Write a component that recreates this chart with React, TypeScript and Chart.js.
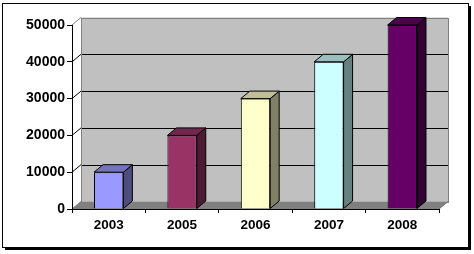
import React, { useEffect, useRef } from "react";
import { Chart, registerables } from "chart.js";

Chart.register(...registerables);

const categories = ["2003", "2005", "2006", "2007", "2008"];
const values = [10000, 20000, 30000, 40000, 50000];
const frontColors = ["#9999FF", "#993366", "#FFFFCC", "#CCFFFF", "#660066"];
const topColors = ["#7373BF", "#73264D", "#BFBF99", "#99BFBF", "#4D004D"];
const sideColors = ["#4D4D80", "#4D1A33", "#808066", "#668080", "#330033"];
const yTicks = [0, 10000, 20000, 30000, 40000, 50000];

const DX = 9;
const DY = -7.5;

const threeD = {
  id: "threeD",
  beforeDraw(chart: any) {
    const ctx = chart.ctx;
    const { left, right, top, bottom } = chart.chartArea;
    const yScale = chart.scales.y;
    ctx.save();
    // frame
    ctx.fillStyle = "#FFFFFF";
    ctx.fillRect(0, 0, chart.width, chart.height);
    ctx.fillStyle = "#000000";
    ctx.fillRect(468, 6, 3, 244);
    ctx.fillRect(5, 247, 466, 3);
    ctx.strokeStyle = "#000000";
    ctx.lineWidth = 1;
    ctx.strokeRect(2.5, 3.5, 466, 244);

    // back wall
    const bl = left + DX, br = right + DX, bt = top + DY, bb = bottom + DY;
    ctx.fillStyle = "#C0C0C0";
    ctx.fillRect(bl, bt, br - bl, bb - bt);
    // back grid lines + side wall diagonals
    ctx.lineWidth = 1;
    yTicks.forEach((v) => {
      const py = Math.round(yScale.getPixelForValue(v) + DY) + 0.5;
      const isEdge = v === yTicks[0] || v === yTicks[yTicks.length - 1];
      ctx.strokeStyle = isEdge ? "#808080" : "#000000";
      if (!isEdge) {
        ctx.beginPath();
        ctx.moveTo(bl, py);
        ctx.lineTo(br, py);
        ctx.stroke();
      }
      ctx.beginPath();
      ctx.moveTo(left, yScale.getPixelForValue(v));
      ctx.lineTo(bl, yScale.getPixelForValue(v) + DY);
      ctx.stroke();
    });
    // back wall outline
    ctx.strokeStyle = "#808080";
    ctx.strokeRect(Math.round(bl) + 0.5, Math.round(bt) + 0.5, Math.round(br - bl), Math.round(bb - bt));
    // floor
    ctx.fillStyle = "#808080";
    ctx.beginPath();
    ctx.moveTo(left, bottom);
    ctx.lineTo(right, bottom);
    ctx.lineTo(br, bb);
    ctx.lineTo(bl, bb);
    ctx.closePath();
    ctx.fill();
    ctx.strokeStyle = "#707070";
    ctx.beginPath();
    ctx.moveTo(right, bottom);
    ctx.lineTo(br, bb);
    ctx.stroke();
    ctx.restore();
  },
  afterDatasetsDraw(chart: any) {
    const ctx = chart.ctx;
    const meta = chart.getDatasetMeta(0);
    ctx.save();
    ctx.lineWidth = 1;
    ctx.strokeStyle = "#000000";
    ctx.lineJoin = "miter";
    meta.data.forEach((el: any, i: number) => {
      const x1 = el.x - el.width / 2;
      const x2 = el.x + el.width / 2;
      const yt = el.y;
      const yb = el.base;
      ctx.fillStyle = sideColors[i];
      ctx.beginPath();
      ctx.moveTo(x2, yt);
      ctx.lineTo(x2 + DX, yt + DY);
      ctx.lineTo(x2 + DX, yb + DY);
      ctx.lineTo(x2, yb);
      ctx.closePath();
      ctx.fill();
      ctx.stroke();
      ctx.fillStyle = topColors[i];
      ctx.beginPath();
      ctx.moveTo(x1, yt);
      ctx.lineTo(x1 + DX, yt + DY);
      ctx.lineTo(x2 + DX, yt + DY);
      ctx.lineTo(x2, yt);
      ctx.closePath();
      ctx.fill();
      ctx.stroke();
    });
    ctx.restore();
  },
};

export default function App() {
  const ref = useRef<HTMLCanvasElement>(null);
  useEffect(() => {
    document.body.style.margin = "0";
    const canvas = ref.current!;
    const family = "Arial, 'Liberation Sans', sans-serif";
    const chart = new Chart(canvas, {
      type: "bar",
      data: {
        labels: categories,
        datasets: [
          {
            data: values,
            backgroundColor: frontColors,
            borderColor: "#000000",
            borderWidth: 1,
            barPercentage: 0.4,
            categoryPercentage: 1,
          },
        ],
      },
      options: {
        responsive: false,
        animation: false,
        devicePixelRatio: 1,
        layout: { padding: { left: 0, top: 25, right: 35, bottom: 0 } },
        plugins: { legend: { display: false }, tooltip: { enabled: false }, title: { display: false } },
        scales: {
          x: {
            offset: true,
            grid: { drawOnChartArea: false, drawTicks: true, tickLength: 4, color: "#000000", offset: true },
            border: { display: true, color: "#000000" },
            ticks: { color: "#000000", font: { family, size: 13.5, weight: "bold" }, padding: 4, maxRotation: 0 },
            afterFit: (s: any) => {
              s.height = 45;
            },
          },
          y: {
            min: 0,
            max: 50000,
            afterBuildTicks: (s: any) => {
              s.ticks = yTicks.map((v) => ({ value: v }));
            },
            grid: { drawOnChartArea: false, drawTicks: true, tickLength: 5, color: "#000000" },
            border: { display: true, color: "#000000" },
            ticks: {
              color: "#000000",
              font: { family, size: 14, weight: "bold" },
              padding: 2,
              callback: (v: any) => String(v),
            },
            afterFit: (s: any) => {
              s.width = 72;
            },
          },
        },
      },
      plugins: [threeD],
    });
    return () => chart.destroy();
  }, []);
  return <canvas ref={ref} width={474} height={254} style={{ display: "block" }} />;
}
